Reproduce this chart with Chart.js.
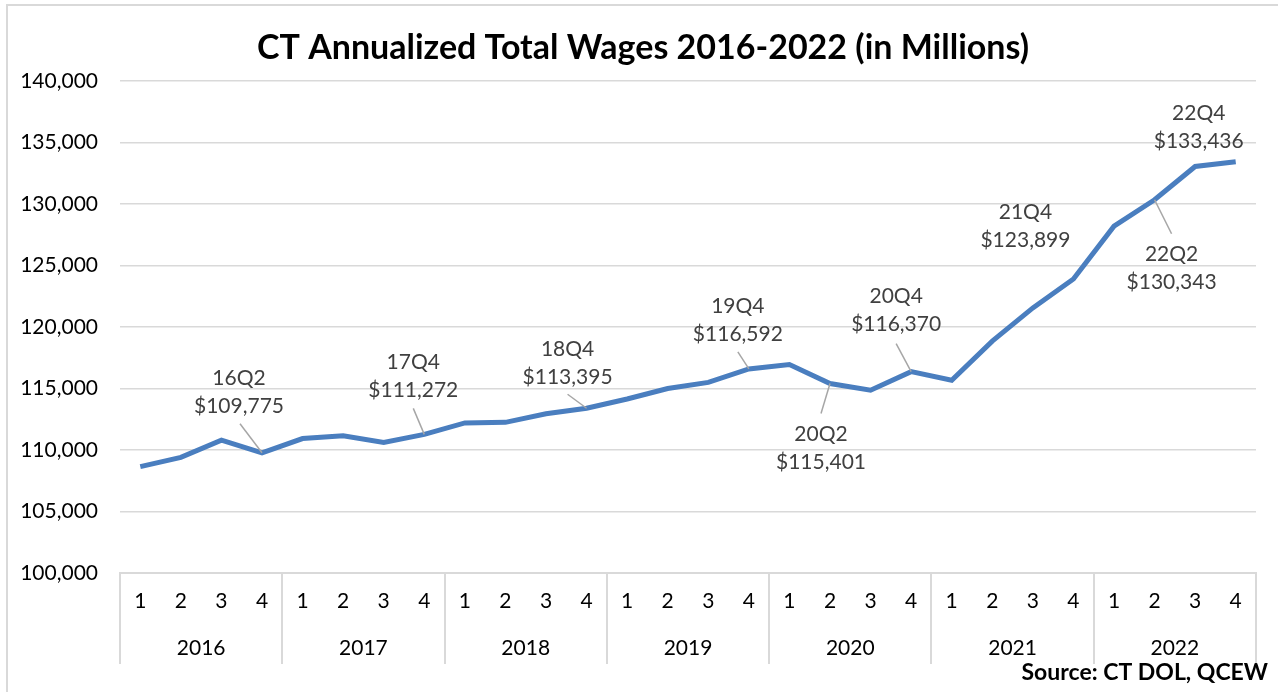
<!DOCTYPE html>
<html>
<head>
<meta charset="utf-8">
<script src="https://cdn.jsdelivr.net/npm/chart.js@4.4.1/dist/chart.umd.min.js"></script>
<style>
  html, body { margin: 0; padding: 0; background: #ffffff; }
  #wrap { position: relative; width: 1278px; height: 692px; }
</style>
</head>
<body>
<div id="wrap"><canvas id="c" width="1278" height="692"></canvas></div>
<script>
// ---- Data ----
const years = ['2016', '2017', '2018', '2019', '2020', '2021', '2022'];
const quarters = ['1', '2', '3', '4'];
const wages = [
  108650, 109400, 110800, 109775,
  110930, 111150, 110610, 111272,
  112200, 112250, 112950, 113395,
  114150, 115000, 115500, 116592,
  116950, 115401, 114860, 116370,
  115670, 118850, 121550, 123899,
  128200, 130343, 133050, 133436
];
const yMin = 100000;
const yMax = 140000;
const yStep = 5000;
const calloutIndex = [3, 7, 11, 15, 17, 19, 23, 25, 27];
const calloutNames = ['16Q2', '17Q4', '18Q4', '19Q4', '20Q2', '20Q4', '21Q4', '22Q2', '22Q4'];
const titleText = 'CT Annualized Total Wages 2016-2022 (in Millions)';
const sourceText = 'Source: CT DOL, QCEW';

// ---- Styles (label offsets relative to point: block centre dx, dy; leader start lx, ly) ----
const calloutStyle = [
  { dx: -23, dy: -61, lx: -22, ly: -29, leader: true },
  { dx: -11, dy: -58, lx: -11, ly: -26, leader: true },
  { dx: -19, dy: -45, lx: -19, ly: -14, leader: true },
  { dx: -11, dy: -49, lx: -11, ly: -17, leader: true },
  { dx: -9,  dy: 65,  lx: -9,  ly: 30,  leader: true },
  { dx: -15, dy: -61, lx: -15, ly: -28, leader: true },
  { dx: -48, dy: -53, lx: 0,   ly: 0,   leader: false },
  { dx: 17,  dy: 68,  lx: 17,  ly: 34,  leader: true },
  { dx: -37, dy: -35, lx: 0,   ly: 0,   leader: false }
];

const labels = [];
years.forEach(y => quarters.forEach(q => labels.push(q)));
const FONT = 'Lato, "Open Sans", sans-serif';

const decorPlugin = {
  id: 'decor',
  beforeDraw(chart) {
    const ctx = chart.ctx;
    ctx.save();
    ctx.strokeStyle = '#d9d9d9';
    ctx.lineWidth = 2;
    ctx.strokeRect(7, 5, 1290, 720);
    ctx.restore();
  },
  afterDraw(chart) {
    const ctx = chart.ctx;
    const xs = chart.scales.x;
    const x2 = chart.scales.x2;
    const area = chart.chartArea;
    ctx.save();
    // title
    ctx.fillStyle = '#000000';
    ctx.font = 'bold 34px ' + FONT;
    ctx.textAlign = 'center';
    ctx.textBaseline = 'middle';
    ctx.fillText(titleText, 643, 48);
    // year separators
    const step = xs.getPixelForValue(1) - xs.getPixelForValue(0);
    ctx.strokeStyle = '#d9d9d9';
    ctx.lineWidth = 2;
    for (let k = 0; k <= years.length; k++) {
      const px = Math.round(xs.getPixelForValue(k * quarters.length) - step / 2);
      ctx.beginPath();
      ctx.moveTo(px, area.bottom);
      ctx.lineTo(px, x2.bottom);
      ctx.stroke();
    }
    // source
    ctx.fillStyle = '#000000';
    ctx.font = 'bold 23px ' + FONT;
    ctx.textAlign = 'right';
    ctx.textBaseline = 'middle';
    ctx.fillText(sourceText, 1268, 673);
    ctx.restore();
  },
  afterDatasetsDraw(chart) {
    const ctx = chart.ctx;
    const meta = chart.getDatasetMeta(0);
    ctx.save();
    calloutIndex.forEach((idx, i) => {
      const pt = meta.data[idx];
      const st = calloutStyle[i];
      if (st.leader) {
        ctx.strokeStyle = '#a6a6a6';
        ctx.lineWidth = 1.5;
        ctx.beginPath();
        ctx.moveTo(pt.x + st.lx, pt.y + st.ly);
        ctx.lineTo(pt.x, pt.y);
        ctx.stroke();
      }
      ctx.fillStyle = '#404040';
      ctx.font = '21px ' + FONT;
      ctx.textAlign = 'center';
      ctx.textBaseline = 'middle';
      const cx = pt.x + st.dx, cy = pt.y + st.dy;
      ctx.fillText(calloutNames[i], cx, cy - 14);
      ctx.fillText('$' + wages[idx].toLocaleString('en-US'), cx, cy + 14);
    });
    ctx.restore();
  }
};

new Chart(document.getElementById('c'), {
  type: 'line',
  data: {
    labels: labels,
    datasets: [{
      data: wages,
      borderColor: '#4a7ebf',
      borderWidth: 5,
      pointRadius: 0,
      pointHoverRadius: 0,
      tension: 0,
      fill: false,
      xAxisID: 'x',
      yAxisID: 'y'
    }]
  },
  options: {
    responsive: false,
    animation: false,
    devicePixelRatio: 1,
    layout: { padding: { left: 8, right: 22, top: 81, bottom: 28 } },
    plugins: {
      legend: { display: false },
      tooltip: { enabled: false },
      title: { display: false }
    },
    scales: {
      y: {
        min: yMin,
        max: yMax,
        ticks: {
          stepSize: yStep,
          color: '#000000',
          font: { family: FONT, size: 21 },
          padding: 22,
          callback: v => v.toLocaleString('en-US')
        },
        grid: { color: '#d9d9d9', lineWidth: 1.5, drawTicks: false },
        border: { display: false },
        afterFit: s => { s.width = 112; }
      },
      x: {
        type: 'category',
        position: 'bottom',
        weight: 0,
        offset: true,
        ticks: {
          color: '#000000',
          font: { family: FONT, size: 21 },
          padding: 16,
          maxRotation: 0,
          autoSkip: false
        },
        grid: { display: false, drawTicks: false },
        border: { display: true, color: '#d9d9d9', width: 2 },
        afterFit: s => { s.height = 53; }
      },
      x2: {
        type: 'category',
        position: 'bottom',
        weight: 1,
        offset: true,
        labels: years,
        ticks: {
          color: '#000000',
          font: { family: FONT, size: 21 },
          padding: 10,
          maxRotation: 0,
          autoSkip: false
        },
        grid: { display: false, drawTicks: false },
        border: { display: false },
        afterFit: s => { s.height = 38; }
      }
    }
  },
  plugins: [decorPlugin]
});
</script>
</body>
</html>
